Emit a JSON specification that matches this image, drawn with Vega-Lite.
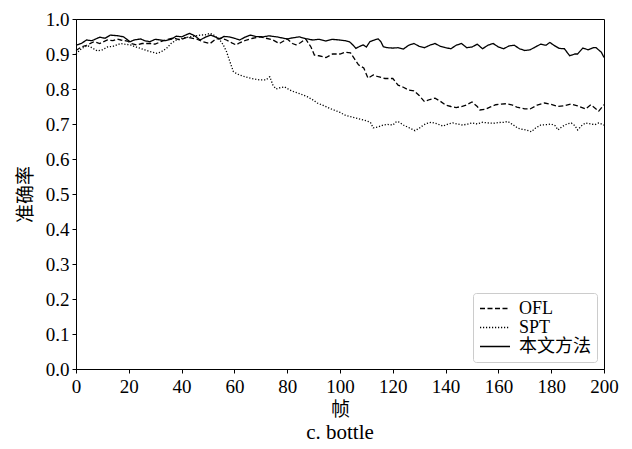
{
"$schema": "https://vega.github.io/schema/vega-lite/v6.json",
"width": 528,
"height": 350,
"autosize": {"type": "none"},
"padding": {"left": 76, "top": 19, "right": 28, "bottom": 80},
"background": "white",
"title": {"text": "c. bottle", "orient": "bottom", "fontSize": 21, "fontWeight": "normal", "color": "#000", "offset": 3, "font": "Liberation Serif"},
"config": {
  "font": "Liberation Serif, Noto Sans CJK SC",
  "view": {"stroke": "#000", "strokeWidth": 1},
  "axis": {
    "domainColor": "#000", "tickColor": "#000", "labelColor": "#000", "titleColor": "#000",
    "grid": false, "tickSize": 4, "labelFontSize": 19, "titleFontSize": 19, "titleFontWeight": "normal",
    "labelFont": "Liberation Serif", "titleFont": "Liberation Serif, Noto Sans CJK SC"
  }
},
"data": {"values": [
{"x":0,"y":0.925,"s":"本文方法"},{"x":2,"y":0.93,"s":"本文方法"},{"x":4,"y":0.94,"s":"本文方法"},{"x":6,"y":0.938,"s":"本文方法"},{"x":9,"y":0.948,"s":"本文方法"},{"x":11,"y":0.945,"s":"本文方法"},{"x":13,"y":0.954,"s":"本文方法"},{"x":16,"y":0.952,"s":"本文方法"},{"x":18,"y":0.949,"s":"本文方法"},{"x":20.5,"y":0.935,"s":"本文方法"},{"x":22,"y":0.94,"s":"本文方法"},{"x":24.5,"y":0.943,"s":"本文方法"},{"x":26,"y":0.938,"s":"本文方法"},{"x":28,"y":0.935,"s":"本文方法"},{"x":30,"y":0.942,"s":"本文方法"},{"x":32,"y":0.94,"s":"本文方法"},{"x":34,"y":0.938,"s":"本文方法"},{"x":36,"y":0.942,"s":"本文方法"},{"x":38,"y":0.951,"s":"本文方法"},{"x":40,"y":0.949,"s":"本文方法"},{"x":43,"y":0.959,"s":"本文方法"},{"x":45,"y":0.952,"s":"本文方法"},{"x":47,"y":0.94,"s":"本文方法"},{"x":49,"y":0.948,"s":"本文方法"},{"x":51,"y":0.954,"s":"本文方法"},{"x":53,"y":0.948,"s":"本文方法"},{"x":54.5,"y":0.943,"s":"本文方法"},{"x":56,"y":0.95,"s":"本文方法"},{"x":58,"y":0.949,"s":"本文方法"},{"x":60,"y":0.945,"s":"本文方法"},{"x":62,"y":0.94,"s":"本文方法"},{"x":64,"y":0.948,"s":"本文方法"},{"x":66,"y":0.954,"s":"本文方法"},{"x":68,"y":0.95,"s":"本文方法"},{"x":71,"y":0.949,"s":"本文方法"},{"x":73,"y":0.952,"s":"本文方法"},{"x":76,"y":0.949,"s":"本文方法"},{"x":78,"y":0.946,"s":"本文方法"},{"x":80,"y":0.943,"s":"本文方法"},{"x":82,"y":0.946,"s":"本文方法"},{"x":84.6,"y":0.949,"s":"本文方法"},{"x":87,"y":0.944,"s":"本文方法"},{"x":89.7,"y":0.94,"s":"本文方法"},{"x":92,"y":0.942,"s":"本文方法"},{"x":94.7,"y":0.937,"s":"本文方法"},{"x":97,"y":0.942,"s":"本文方法"},{"x":99.8,"y":0.94,"s":"本文方法"},{"x":102,"y":0.938,"s":"本文方法"},{"x":103.6,"y":0.935,"s":"本文方法"},{"x":105,"y":0.925,"s":"本文方法"},{"x":106,"y":0.916,"s":"本文方法"},{"x":107.5,"y":0.922,"s":"本文方法"},{"x":108.8,"y":0.926,"s":"本文方法"},{"x":110,"y":0.92,"s":"本文方法"},{"x":111.3,"y":0.935,"s":"本文方法"},{"x":113,"y":0.94,"s":"本文方法"},{"x":114.5,"y":0.943,"s":"本文方法"},{"x":115.5,"y":0.935,"s":"本文方法"},{"x":116.4,"y":0.921,"s":"本文方法"},{"x":118,"y":0.918,"s":"本文方法"},{"x":120,"y":0.917,"s":"本文方法"},{"x":122,"y":0.918,"s":"本文方法"},{"x":124,"y":0.914,"s":"本文方法"},{"x":126,"y":0.925,"s":"本文方法"},{"x":128,"y":0.93,"s":"本文方法"},{"x":130,"y":0.922,"s":"本文方法"},{"x":132,"y":0.918,"s":"本文方法"},{"x":134,"y":0.925,"s":"本文方法"},{"x":136,"y":0.93,"s":"本文方法"},{"x":138,"y":0.922,"s":"本文方法"},{"x":140,"y":0.918,"s":"本文方法"},{"x":142,"y":0.915,"s":"本文方法"},{"x":144,"y":0.925,"s":"本文方法"},{"x":146,"y":0.93,"s":"本文方法"},{"x":148,"y":0.918,"s":"本文方法"},{"x":150,"y":0.92,"s":"本文方法"},{"x":152,"y":0.928,"s":"本文方法"},{"x":154,"y":0.915,"s":"本文方法"},{"x":156,"y":0.925,"s":"本文方法"},{"x":158,"y":0.93,"s":"本文方法"},{"x":160,"y":0.92,"s":"本文方法"},{"x":162,"y":0.915,"s":"本文方法"},{"x":164,"y":0.923,"s":"本文方法"},{"x":166,"y":0.925,"s":"本文方法"},{"x":168,"y":0.915,"s":"本文方法"},{"x":170,"y":0.91,"s":"本文方法"},{"x":172,"y":0.912,"s":"本文方法"},{"x":174,"y":0.92,"s":"本文方法"},{"x":176,"y":0.928,"s":"本文方法"},{"x":178,"y":0.925,"s":"本文方法"},{"x":179.5,"y":0.933,"s":"本文方法"},{"x":181,"y":0.925,"s":"本文方法"},{"x":183,"y":0.916,"s":"本文方法"},{"x":185,"y":0.915,"s":"本文方法"},{"x":187,"y":0.895,"s":"本文方法"},{"x":189,"y":0.9,"s":"本文方法"},{"x":190,"y":0.9,"s":"本文方法"},{"x":192,"y":0.917,"s":"本文方法"},{"x":194,"y":0.912,"s":"本文方法"},{"x":196,"y":0.918,"s":"本文方法"},{"x":197,"y":0.918,"s":"本文方法"},{"x":199,"y":0.905,"s":"本文方法"},{"x":200,"y":0.89,"s":"本文方法"},
{"x":0,"y":0.91,"s":"OFL"},{"x":2,"y":0.92,"s":"OFL"},{"x":4,"y":0.925,"s":"OFL"},{"x":6.8,"y":0.935,"s":"OFL"},{"x":9,"y":0.93,"s":"OFL"},{"x":11.9,"y":0.94,"s":"OFL"},{"x":14,"y":0.938,"s":"OFL"},{"x":15.6,"y":0.943,"s":"OFL"},{"x":17,"y":0.94,"s":"OFL"},{"x":19.4,"y":0.937,"s":"OFL"},{"x":21,"y":0.93,"s":"OFL"},{"x":23,"y":0.926,"s":"OFL"},{"x":25,"y":0.93,"s":"OFL"},{"x":28,"y":0.93,"s":"OFL"},{"x":30,"y":0.928,"s":"OFL"},{"x":32,"y":0.935,"s":"OFL"},{"x":34,"y":0.94,"s":"OFL"},{"x":37,"y":0.946,"s":"OFL"},{"x":39.4,"y":0.94,"s":"OFL"},{"x":42,"y":0.948,"s":"OFL"},{"x":45.6,"y":0.943,"s":"OFL"},{"x":48,"y":0.935,"s":"OFL"},{"x":50.8,"y":0.93,"s":"OFL"},{"x":53,"y":0.943,"s":"OFL"},{"x":55,"y":0.945,"s":"OFL"},{"x":57,"y":0.94,"s":"OFL"},{"x":59,"y":0.932,"s":"OFL"},{"x":60.6,"y":0.926,"s":"OFL"},{"x":62,"y":0.932,"s":"OFL"},{"x":64.6,"y":0.94,"s":"OFL"},{"x":67,"y":0.945,"s":"OFL"},{"x":69.7,"y":0.949,"s":"OFL"},{"x":72,"y":0.945,"s":"OFL"},{"x":74.6,"y":0.94,"s":"OFL"},{"x":77,"y":0.93,"s":"OFL"},{"x":80,"y":0.943,"s":"OFL"},{"x":82,"y":0.93,"s":"OFL"},{"x":83.3,"y":0.926,"s":"OFL"},{"x":85,"y":0.932,"s":"OFL"},{"x":87,"y":0.943,"s":"OFL"},{"x":89,"y":0.92,"s":"OFL"},{"x":90.3,"y":0.897,"s":"OFL"},{"x":92,"y":0.895,"s":"OFL"},{"x":94.7,"y":0.89,"s":"OFL"},{"x":97.2,"y":0.9,"s":"OFL"},{"x":100,"y":0.9,"s":"OFL"},{"x":102,"y":0.905,"s":"OFL"},{"x":104,"y":0.903,"s":"OFL"},{"x":107,"y":0.869,"s":"OFL"},{"x":109,"y":0.86,"s":"OFL"},{"x":110.6,"y":0.831,"s":"OFL"},{"x":112.6,"y":0.84,"s":"OFL"},{"x":114.5,"y":0.835,"s":"OFL"},{"x":117,"y":0.83,"s":"OFL"},{"x":120,"y":0.83,"s":"OFL"},{"x":122,"y":0.811,"s":"OFL"},{"x":124,"y":0.805,"s":"OFL"},{"x":126,"y":0.797,"s":"OFL"},{"x":128,"y":0.795,"s":"OFL"},{"x":129.8,"y":0.783,"s":"OFL"},{"x":132,"y":0.764,"s":"OFL"},{"x":134,"y":0.77,"s":"OFL"},{"x":136,"y":0.774,"s":"OFL"},{"x":138,"y":0.765,"s":"OFL"},{"x":140,"y":0.754,"s":"OFL"},{"x":142,"y":0.75,"s":"OFL"},{"x":144,"y":0.747,"s":"OFL"},{"x":146,"y":0.75,"s":"OFL"},{"x":147.8,"y":0.754,"s":"OFL"},{"x":150,"y":0.763,"s":"OFL"},{"x":152,"y":0.75,"s":"OFL"},{"x":153,"y":0.74,"s":"OFL"},{"x":155,"y":0.742,"s":"OFL"},{"x":157,"y":0.749,"s":"OFL"},{"x":159,"y":0.755,"s":"OFL"},{"x":161,"y":0.757,"s":"OFL"},{"x":163,"y":0.758,"s":"OFL"},{"x":165,"y":0.755,"s":"OFL"},{"x":167,"y":0.748,"s":"OFL"},{"x":170,"y":0.743,"s":"OFL"},{"x":172,"y":0.743,"s":"OFL"},{"x":175,"y":0.755,"s":"OFL"},{"x":177.5,"y":0.76,"s":"OFL"},{"x":180,"y":0.756,"s":"OFL"},{"x":182.6,"y":0.75,"s":"OFL"},{"x":185,"y":0.752,"s":"OFL"},{"x":187.6,"y":0.757,"s":"OFL"},{"x":190,"y":0.752,"s":"OFL"},{"x":193,"y":0.743,"s":"OFL"},{"x":195,"y":0.755,"s":"OFL"},{"x":198,"y":0.737,"s":"OFL"},{"x":200,"y":0.755,"s":"OFL"},
{"x":0,"y":0.9,"s":"SPT"},{"x":2,"y":0.915,"s":"SPT"},{"x":4.3,"y":0.924,"s":"SPT"},{"x":6,"y":0.918,"s":"SPT"},{"x":8,"y":0.909,"s":"SPT"},{"x":10,"y":0.912,"s":"SPT"},{"x":11.9,"y":0.92,"s":"SPT"},{"x":14,"y":0.922,"s":"SPT"},{"x":16.9,"y":0.93,"s":"SPT"},{"x":18.5,"y":0.928,"s":"SPT"},{"x":20.6,"y":0.926,"s":"SPT"},{"x":22,"y":0.922,"s":"SPT"},{"x":24.4,"y":0.916,"s":"SPT"},{"x":26,"y":0.912,"s":"SPT"},{"x":28,"y":0.907,"s":"SPT"},{"x":30.6,"y":0.902,"s":"SPT"},{"x":32,"y":0.905,"s":"SPT"},{"x":34.3,"y":0.916,"s":"SPT"},{"x":36,"y":0.93,"s":"SPT"},{"x":38,"y":0.94,"s":"SPT"},{"x":39.4,"y":0.943,"s":"SPT"},{"x":41,"y":0.946,"s":"SPT"},{"x":43,"y":0.949,"s":"SPT"},{"x":45,"y":0.951,"s":"SPT"},{"x":47,"y":0.954,"s":"SPT"},{"x":49,"y":0.955,"s":"SPT"},{"x":50.8,"y":0.959,"s":"SPT"},{"x":52,"y":0.955,"s":"SPT"},{"x":53,"y":0.949,"s":"SPT"},{"x":54.5,"y":0.94,"s":"SPT"},{"x":55.8,"y":0.926,"s":"SPT"},{"x":57,"y":0.907,"s":"SPT"},{"x":58.3,"y":0.878,"s":"SPT"},{"x":59.6,"y":0.85,"s":"SPT"},{"x":61,"y":0.843,"s":"SPT"},{"x":62,"y":0.84,"s":"SPT"},{"x":64,"y":0.835,"s":"SPT"},{"x":66,"y":0.831,"s":"SPT"},{"x":68,"y":0.828,"s":"SPT"},{"x":69.7,"y":0.826,"s":"SPT"},{"x":71,"y":0.826,"s":"SPT"},{"x":72,"y":0.826,"s":"SPT"},{"x":73.4,"y":0.835,"s":"SPT"},{"x":74.6,"y":0.811,"s":"SPT"},{"x":75.8,"y":0.8,"s":"SPT"},{"x":77,"y":0.803,"s":"SPT"},{"x":79,"y":0.806,"s":"SPT"},{"x":81,"y":0.797,"s":"SPT"},{"x":82.6,"y":0.792,"s":"SPT"},{"x":85,"y":0.786,"s":"SPT"},{"x":87.6,"y":0.778,"s":"SPT"},{"x":89.5,"y":0.77,"s":"SPT"},{"x":91.4,"y":0.76,"s":"SPT"},{"x":94,"y":0.752,"s":"SPT"},{"x":96,"y":0.745,"s":"SPT"},{"x":97.7,"y":0.74,"s":"SPT"},{"x":100,"y":0.733,"s":"SPT"},{"x":102,"y":0.725,"s":"SPT"},{"x":104,"y":0.721,"s":"SPT"},{"x":106,"y":0.717,"s":"SPT"},{"x":108,"y":0.713,"s":"SPT"},{"x":110,"y":0.709,"s":"SPT"},{"x":111.5,"y":0.705,"s":"SPT"},{"x":112.6,"y":0.689,"s":"SPT"},{"x":114.5,"y":0.692,"s":"SPT"},{"x":116.4,"y":0.697,"s":"SPT"},{"x":118,"y":0.699,"s":"SPT"},{"x":120,"y":0.697,"s":"SPT"},{"x":121.4,"y":0.707,"s":"SPT"},{"x":122.5,"y":0.705,"s":"SPT"},{"x":124,"y":0.697,"s":"SPT"},{"x":126,"y":0.69,"s":"SPT"},{"x":128.4,"y":0.681,"s":"SPT"},{"x":130,"y":0.688,"s":"SPT"},{"x":131.6,"y":0.697,"s":"SPT"},{"x":133,"y":0.702,"s":"SPT"},{"x":134.7,"y":0.705,"s":"SPT"},{"x":137,"y":0.7,"s":"SPT"},{"x":139,"y":0.694,"s":"SPT"},{"x":141,"y":0.7,"s":"SPT"},{"x":142.7,"y":0.703,"s":"SPT"},{"x":144.5,"y":0.7,"s":"SPT"},{"x":146.5,"y":0.697,"s":"SPT"},{"x":148.5,"y":0.7,"s":"SPT"},{"x":150,"y":0.703,"s":"SPT"},{"x":152,"y":0.7,"s":"SPT"},{"x":154,"y":0.705,"s":"SPT"},{"x":156,"y":0.703,"s":"SPT"},{"x":158,"y":0.702,"s":"SPT"},{"x":160,"y":0.704,"s":"SPT"},{"x":162,"y":0.705,"s":"SPT"},{"x":163.6,"y":0.707,"s":"SPT"},{"x":165.5,"y":0.698,"s":"SPT"},{"x":167.4,"y":0.688,"s":"SPT"},{"x":169,"y":0.685,"s":"SPT"},{"x":170.5,"y":0.683,"s":"SPT"},{"x":172.5,"y":0.678,"s":"SPT"},{"x":174,"y":0.688,"s":"SPT"},{"x":176,"y":0.697,"s":"SPT"},{"x":178,"y":0.698,"s":"SPT"},{"x":180,"y":0.7,"s":"SPT"},{"x":181.5,"y":0.695,"s":"SPT"},{"x":182.6,"y":0.683,"s":"SPT"},{"x":184,"y":0.692,"s":"SPT"},{"x":186,"y":0.7,"s":"SPT"},{"x":187.6,"y":0.703,"s":"SPT"},{"x":189,"y":0.695,"s":"SPT"},{"x":190,"y":0.683,"s":"SPT"},{"x":191.5,"y":0.695,"s":"SPT"},{"x":193,"y":0.703,"s":"SPT"},{"x":195,"y":0.7,"s":"SPT"},{"x":196.5,"y":0.698,"s":"SPT"},{"x":198,"y":0.703,"s":"SPT"},{"x":200,"y":0.697,"s":"SPT"}
]},
"mark": {"type": "line", "strokeWidth": 1.3, "color": "#000"},
"encoding": {
  "x": {"field": "x", "type": "quantitative", "scale": {"domain": [0, 200], "nice": false},
        "axis": {"values": [0, 20, 40, 60, 80, 100, 120, 140, 160, 180, 200], "title": "帧", "titlePadding": 4, "labelPadding": 4, "labelFlush": false}},
  "y": {"field": "y", "type": "quantitative", "scale": {"domain": [0, 1], "nice": false, "zero": false},
        "axis": {"values": [0, 0.1, 0.2, 0.3, 0.4, 0.5, 0.6, 0.7, 0.8, 0.9, 1.0], "format": ".1f", "title": "准确率", "titlePadding": 10, "labelPadding": 3, "labelFlush": false}},
  "strokeDash": {"field": "s", "type": "nominal",
        "scale": {"domain": ["OFL", "SPT", "本文方法"], "range": [[5, 2.5], [1.2, 1.8], [1, 0]]},
        "legend": {"title": null, "orient": "bottom-right", "offset": 7, "padding": 6, "symbolType": "M-1,0H2.53", "symbolSize": 289, "symbolStrokeWidth": 1.3, "symbolStrokeColor": "#000", "symbolFillColor": "transparent", "labelFontSize": 18, "labelFont": "Liberation Serif, Noto Sans CJK SC", "labelColor": "#000", "labelOffset": 21, "rowPadding": 0, "strokeColor": "#cccccc", "fillColor": "white", "cornerRadius": 3}}
}
}
